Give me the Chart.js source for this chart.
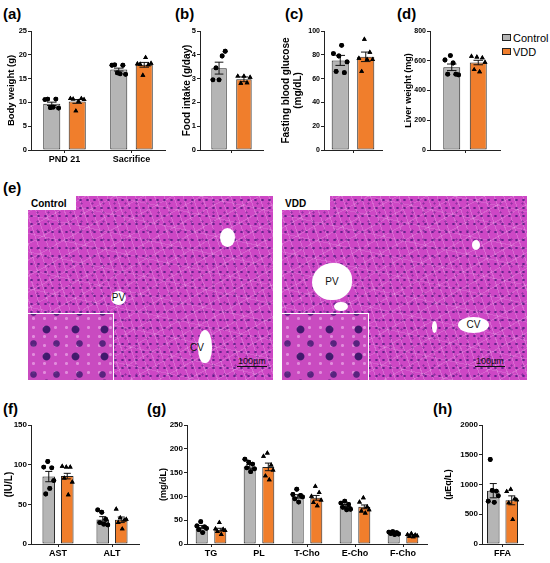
<!DOCTYPE html>
<html>
<head>
<meta charset="utf-8">
<script src="https://cdn.jsdelivr.net/npm/chart.js@4.4.1/dist/chart.umd.min.js"></script>
<style>
  body { margin: 0; width: 550px; height: 563px; overflow: hidden; position: relative; background: #fff;
         font-family: 'Liberation Sans', Arial, sans-serif; }
  canvas { position: absolute; }
  .lbl { position: absolute; font-weight: bold; font-size: 15px; line-height: 1; }
  .leg { position: absolute; font-size: 11px; line-height: 1; }
  .leg i { position: absolute; left: -11px; top: 1px; width: 7px; height: 5px; border: 1px solid #222; }
  .histo { position: absolute; top: 196px; width: 245px; height: 184px; overflow: hidden;
    background-color: #cd47c5;
    background-image:
      radial-gradient(circle, rgba(75,25,125,.8) 0 0.9px, transparent 1.5px),
      radial-gradient(circle, rgba(95,30,135,.55) 0 0.8px, transparent 1.4px),
      repeating-linear-gradient(71deg, transparent 0 8px, rgba(255,230,255,.22) 8px 9px),
      repeating-linear-gradient(-29deg, transparent 0 13px, rgba(255,230,255,.18) 13px 14px),
      repeating-linear-gradient(12deg, transparent 0 17px, rgba(255,230,255,.15) 17px 18px);
    background-size: 7px 8px, 11px 9px, auto, auto, auto;
    background-position: 0 0, 4px 3px, 0 0, 0 0, 0 0; }
  .tag { position: absolute; left: 0; top: 0; width: 45px; height: 14px; background: #fff;
         font-weight: bold; font-size: 10px; line-height: 15px; padding-left: 3px; }
  .inset { position: absolute; left: 0; bottom: 0; height: 66px; border-top: 1px solid #fff; border-right: 1px solid #fff;
    background-color: #c94bc0;
    background-image:
      radial-gradient(circle, rgba(50,20,100,.9) 0 3.4px, transparent 4.4px),
      radial-gradient(circle, rgba(60,25,110,.8) 0 2.8px, transparent 3.8px),
      radial-gradient(circle, rgba(255,220,255,.45) 0 1.2px, transparent 1.8px);
    background-size: 29px 27px, 23px 31px, 11px 9px; background-position: 4px 2px, 17px 14px, 0 0; }
  .vessel { position: absolute; background: #fff; border-radius: 50%; font-size: 10px; line-height: 1;
            display: flex; align-items: center; justify-content: center; color: #111; }
  .bar100 { position: absolute; font-size: 9px; color: #111; border-bottom: 1px solid #111; line-height: 10px; padding: 0 1px; }
</style>
</head>
<body>

<div class="lbl" style="left:3px;top:6px">(a)</div>
<div class="lbl" style="left:175px;top:6px">(b)</div>
<div class="lbl" style="left:285px;top:6px">(c)</div>
<div class="lbl" style="left:397px;top:6px">(d)</div>
<div class="lbl" style="left:3px;top:180px">(e)</div>
<div class="lbl" style="left:3px;top:401px">(f)</div>
<div class="lbl" style="left:147px;top:401px">(g)</div>
<div class="lbl" style="left:433px;top:401px">(h)</div>

<div class="leg" style="left:513px;top:33px"><i style="background:#b5b5b5"></i>Control</div>
<div class="leg" style="left:513px;top:47px"><i style="background:#f07e2c"></i>VDD</div>

<div class="histo" style="left:28px">
  <div class="vessel" style="left:192px;top:32px;width:15px;height:19px"></div>
  <div class="vessel" style="left:83px;top:95px;width:15px;height:14px">PV</div>
  <div class="vessel" style="left:170px;top:134px;width:14px;height:33px;border-radius:50% 50% 45% 45%"></div>
  <div style="position:absolute;left:162px;top:146px;font-size:10px;color:#111">CV</div>
  <div class="inset" style="width:85px"></div>
  <div class="bar100" style="left:209px;top:160px">100µm</div>
  <div class="tag">Control</div>
</div>

<div class="histo" style="left:282px">
  <div class="vessel" style="left:30px;top:67px;width:40px;height:37px;border-radius:55% 45% 50% 50%">PV</div>
  <div class="vessel" style="left:52px;top:106px;width:14px;height:9px"></div>
  <div class="vessel" style="left:190px;top:44px;width:8px;height:10px"></div>
  <div class="vessel" style="left:176px;top:121px;width:31px;height:16px">CV</div>
  <div class="vessel" style="left:150px;top:125px;width:5px;height:12px"></div>
  <div class="inset" style="width:86px"></div>
  <div class="bar100" style="left:193px;top:160px">100µm</div>
  <div class="tag">VDD</div>
</div>

<canvas id="cA"></canvas>
<canvas id="cB"></canvas>
<canvas id="cC"></canvas>
<canvas id="cD"></canvas>
<canvas id="cF"></canvas>
<canvas id="cG"></canvas>
<canvas id="cH"></canvas>

<script>
// (a) body weight
const bwLabels = ['PND 21', 'Sacrifice'];
const bwCtrlMean = [9.7, 16.9];
const bwCtrlSem = [0.35, 0.3];
const bwVddMean = [10.2, 17.9];
const bwVddSem = [0.4, 0.5];
const bwCtrlPts = [[10.6, 10.7, 8.9, 9.0, 10.7, 8.8], [17.8, 17.9, 16.2, 16.0, 17.8, 15.9]];
const bwVddPts = [[10.8, 10.7, 8.2, 10.2, 10.8, 10.6], [18.1, 18.0, 15.7, 19.4, 17.9, 18.2]];

// (b) food intake
const fiLabels = [''];
const fiCtrlMean = [3.44];
const fiCtrlSem = [0.25];
const fiVddMean = [2.97];
const fiVddSem = [0.1];
const fiCtrlPts = [[2.95, 3.45, 2.95, 3.95, 4.15]];
const fiVddPts = [[3.1, 2.8, 3.1, 2.82, 3.05]];

// (c) fasting blood glucose
const gluLabels = [''];
const gluCtrlMean = [75.3];
const gluCtrlSem = [4.2];
const gluVddMean = [78.3];
const gluVddSem = [4.0];
const gluCtrlPts = [[81, 66, 79, 88, 65, 74]];
const gluVddPts = [[77, 66, 93, 76, 82, 76]];

// (d) liver weight
const lwLabels = [''];
const lwCtrlMean = [556];
const lwCtrlSem = [22];
const lwVddMean = [588];
const lwVddSem = [15];
const lwCtrlPts = [[605, 510, 635, 585, 510, 505]];
const lwVddPts = [[630, 540, 625, 525, 620, 590]];

// (f) AST / ALT
const liverLabels = ['AST', 'ALT'];
const liverCtrlMean = [85, 31];
const liverCtrlSem = [6.5, 3.5];
const liverVddMean = [85.6, 30.5];
const liverVddSem = [3.5, 3.5];
const liverCtrlPts = [[97, 63, 104, 70, 96, 80], [43, 27, 40, 25, 31, 24]];
const liverVddPts = [[98, 83, 97, 62, 97, 78], [44, 27, 33, 19, 30, 31]];

// (g) serum lipids
const lipLabels = ['TG', 'PL', 'T-Cho', 'E-Cho', 'F-Cho'];
const lipCtrlMean = [36, 163, 100, 80, 23];
const lipCtrlSem = [3, 4, 3.5, 3, 1];
const lipVddMean = [30, 162, 97, 78, 18];
const lipVddSem = [3, 8, 5, 4, 1];
const lipCtrlPts = [[38, 30, 47, 24, 36, 33], [178, 160, 172, 152, 168, 158], [104, 95, 115, 88, 102, 99],
                    [86, 77, 90, 72, 83, 73], [25, 22, 26, 20, 24, 21]];
const lipVddPts = [[32, 26, 45, 20, 31, 28], [184, 143, 191, 135, 166, 155], [100, 87, 121, 80, 108, 92],
                   [88, 69, 97, 65, 78, 72], [20, 16, 22, 15, 19, 17]];

// (h) free fatty acids
const ffaLabels = ['FFA'];
const ffaCtrlMean = [896];
const ffaCtrlSem = [120];
const ffaVddMean = [734];
const ffaVddSem = [75];
const ffaCtrlPts = [[720, 1420, 900, 700, 890, 810]];
const ffaVddPts = [[880, 690, 920, 410, 760, 740]];

const GRAY = '#b5b5b5';
const ORANGE = '#f07e2c';
const FONT = "'Liberation Sans', Arial, sans-serif";

// SEM whiskers and individual animals, placed on each bar via the y scale
const barExtras = {
  id: 'barExtras',
  afterDatasetsDraw(chart) {
    const y = chart.scales.y;
    const ctx = chart.ctx;
    chart.data.datasets.forEach((ds, di) => {
      const meta = chart.getDatasetMeta(di);
      ctx.save();
      ctx.strokeStyle = '#111';
      ctx.fillStyle = '#000';
      ctx.lineWidth = 1;
      meta.data.forEach((bar, i) => {
        const m = ds.data[i], s = ds.sem[i];
        const y0 = y.getPixelForValue(m - s);
        const y1 = y.getPixelForValue(m + s);
        const cap = bar.width * 0.28;
        ctx.beginPath();
        ctx.moveTo(bar.x, y0); ctx.lineTo(bar.x, y1);
        ctx.moveTo(bar.x - cap, y1); ctx.lineTo(bar.x + cap, y1);
        ctx.moveTo(bar.x - cap, y0); ctx.lineTo(bar.x + cap, y0);
        ctx.stroke();

        const pts = ds.pts[i];
        pts.forEach((v, k) => {
          const dx = pts.length > 1 ? (k / (pts.length - 1) - 0.5) * bar.width * 0.8 : 0;
          Chart.helpers.drawPoint(ctx, { pointStyle: ds.dot, radius: ds.dotR, rotation: 0, borderWidth: 0 },
                                  bar.x + dx, y.getPixelForValue(v));
          ctx.fill();
        });
      });
      ctx.restore();
    });
  }
};

function barPanel(id, p) {
  const lh = p.titleSize * 1.2;
  const left = Math.round(p.titleX - lh / 2);
  const top = p.top - 6;
  const cv = document.getElementById(id);
  cv.width = p.right - left + 4;
  cv.height = p.bottom - top + 18;
  cv.style.left = left + 'px';
  cv.style.top = top + 'px';
  const yW = p.axisX - left;

  const barDs = (label, data, sem, pts, color, dot, dotR) => ({
    label, data, sem, pts, dot, dotR,
    backgroundColor: color, borderColor: '#222', borderWidth: 1, borderSkipped: false,
    categoryPercentage: p.catPct, barPercentage: p.barPct
  });

  return new Chart(cv.getContext('2d'), {
    type: 'bar',
    data: {
      labels: p.labels,
      datasets: [
        barDs('Control', p.ctrlMean, p.ctrlSem, p.ctrlPts, GRAY, 'circle', 2.4),
        barDs('VDD', p.vddMean, p.vddSem, p.vddPts, ORANGE, 'triangle', 2.8)
      ]
    },
    options: {
      responsive: false,
      animation: false,
      layout: { padding: { top: 6, right: 4, left: 0, bottom: 0 } },
      plugins: { legend: { display: false }, tooltip: { enabled: false } },
      scales: {
        x: {
          grid: { display: true, drawOnChartArea: false, offset: false, tickLength: 3, color: '#222' },
          border: { color: '#222', width: 1 },
          ticks: { color: '#000', font: { family: FONT, size: 9, weight: 'bold' }, padding: 1,
                   maxRotation: 0, autoSkip: false },
          afterFit: (s) => { s.height = 18; }
        },
        y: {
          min: 0, max: p.yMax,
          grid: { display: true, drawOnChartArea: false, tickLength: 3, color: '#222' },
          border: { color: '#222', width: 1 },
          ticks: { stepSize: p.yStep, color: '#000', font: { family: FONT, size: p.tickSize, weight: 'bold' }, padding: 1,
                   callback: (v) => String(v) },
          title: { display: true, text: p.title, color: '#000', padding: 0,
                   font: { family: FONT, size: p.titleSize, weight: 'bold' } },
          afterFit: (s) => { s.width = yW; }
        }
      }
    },
    plugins: [barExtras]
  });
}

barPanel('cA', { labels: bwLabels, ctrlMean: bwCtrlMean, ctrlSem: bwCtrlSem, vddMean: bwVddMean, vddSem: bwVddSem,
  ctrlPts: bwCtrlPts, vddPts: bwVddPts, yMax: 25, yStep: 5, title: 'Body weight (g)', titleSize: 9.5, tickSize: 7.5,
  titleX: 12, axisX: 31, right: 165, top: 31, bottom: 150, catPct: 0.76, barPct: 0.67 });

barPanel('cB', { labels: fiLabels, ctrlMean: fiCtrlMean, ctrlSem: fiCtrlSem, vddMean: fiVddMean, vddSem: fiVddSem,
  ctrlPts: fiCtrlPts, vddPts: fiVddPts, yMax: 5, yStep: 1, title: 'Food intake (g/day)', titleSize: 10, tickSize: 7.5,
  titleX: 187, axisX: 200, right: 263, top: 31, bottom: 150, catPct: 0.79, barPct: 0.62 });

barPanel('cC', { labels: gluLabels, ctrlMean: gluCtrlMean, ctrlSem: gluCtrlSem, vddMean: gluVddMean, vddSem: gluVddSem,
  ctrlPts: gluCtrlPts, vddPts: gluVddPts, yMax: 100, yStep: 20, title: ['Fasting blood glucose', '(mg/dL)'],
  titleSize: 10, tickSize: 7, titleX: 286, axisX: 324, right: 382, top: 31, bottom: 150, catPct: 0.88, barPct: 0.67 });

barPanel('cD', { labels: lwLabels, ctrlMean: lwCtrlMean, ctrlSem: lwCtrlSem, vddMean: lwVddMean, vddSem: lwVddSem,
  ctrlPts: lwCtrlPts, vddPts: lwVddPts, yMax: 800, yStep: 200, title: 'Liver weight (mg)', titleSize: 9, tickSize: 7,
  titleX: 408, axisX: 430, right: 500, top: 31, bottom: 150, catPct: 0.757, barPct: 0.64 });

barPanel('cF', { labels: liverLabels, ctrlMean: liverCtrlMean, ctrlSem: liverCtrlSem, vddMean: liverVddMean, vddSem: liverVddSem,
  ctrlPts: liverCtrlPts, vddPts: liverVddPts, yMax: 150, yStep: 50, title: '(IU/L)', titleSize: 10, tickSize: 8,
  titleX: 9, axisX: 31, right: 139, top: 425, bottom: 544, catPct: 0.685, barPct: 0.68 });

barPanel('cG', { labels: lipLabels, ctrlMean: lipCtrlMean, ctrlSem: lipCtrlSem, vddMean: lipVddMean, vddSem: lipVddSem,
  ctrlPts: lipCtrlPts, vddPts: lipVddPts, yMax: 250, yStep: 50, title: '(mg/dL)', titleSize: 9, tickSize: 8,
  titleX: 163.5, axisX: 187, right: 427, top: 425, bottom: 544, catPct: 0.775, barPct: 0.645 });

barPanel('cH', { labels: ffaLabels, ctrlMean: ffaCtrlMean, ctrlSem: ffaCtrlSem, vddMean: ffaVddMean, vddSem: ffaVddSem,
  ctrlPts: ffaCtrlPts, vddPts: ffaVddPts, yMax: 2000, yStep: 500, title: '(µEq/L)', titleSize: 9, tickSize: 8,
  titleX: 448, axisX: 482, right: 523, top: 425, bottom: 544, catPct: 0.9, barPct: 0.68 });
</script>
</body>
</html>
